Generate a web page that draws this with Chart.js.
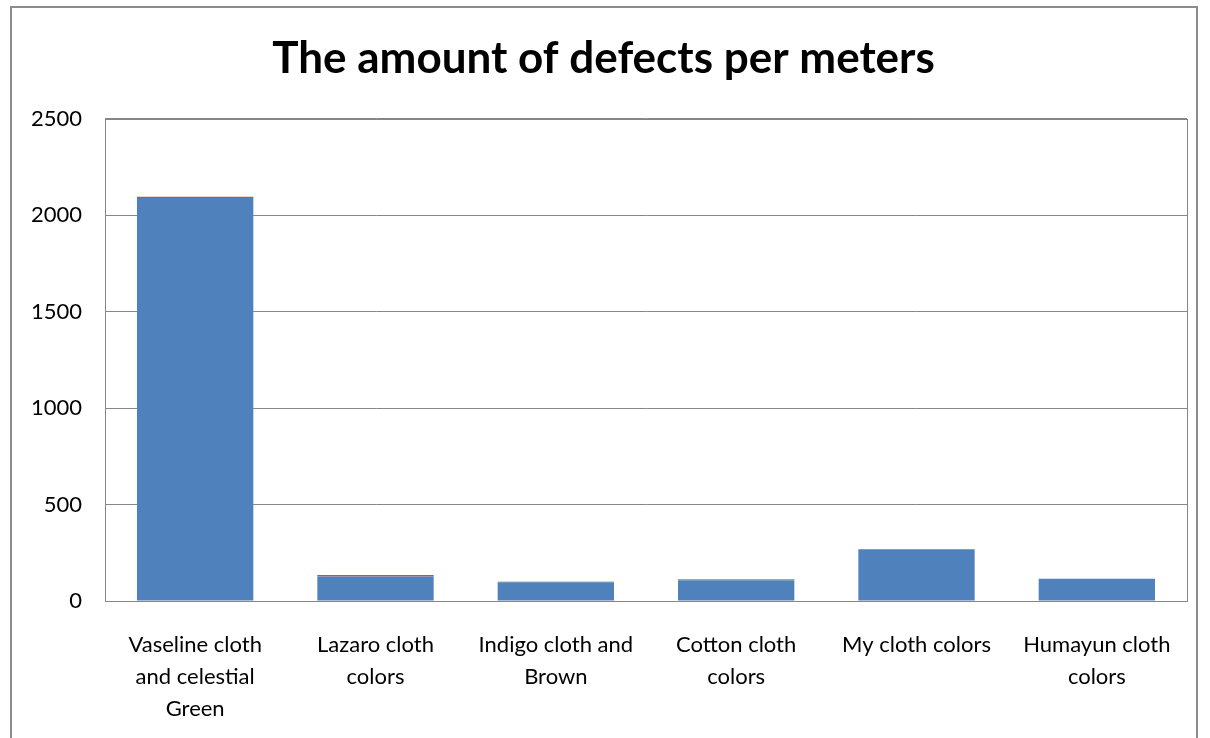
<!DOCTYPE html>
<html>
<head>
<meta charset="utf-8">
<script src="https://cdn.jsdelivr.net/npm/chart.js@4"></script>
<style>
  body { margin: 0; background: #fff; }
  #wrap { position: absolute; left: 0; top: 0; width: 1210px; height: 738px; }
  #frame { position: absolute; left: 10px; top: 6px; width: 1188px; height: 760px; border: 2px solid #8c8c8c; box-sizing: border-box; }
</style>
</head>
<body>
<div id="wrap">
  <div id="frame"></div>
  <canvas id="chart" width="1210" height="738"></canvas>
</div>
<script>
const categories = [
  ["Vaseline cloth", "and celestial", "Green"],
  ["Lazaro cloth", "colors"],
  ["Indigo cloth and", "Brown"],
  ["Cotton cloth", "colors"],
  ["My cloth colors"],
  ["Humayun cloth", "colors"]
];
const blue_values = [2090, 127, 97, 108, 268, 115];
const red_values = [6, 8, 0, 0, 0, 0];
const green_values = [0, 0, 4, 6, 0, 0];
const y_ticks = [0, 500, 1000, 1500, 2000, 2500];

Chart.defaults.font.family = "Lato, 'Open Sans', sans-serif";
Chart.defaults.color = '#000';

// box round the plot area
const plotBorder = {
  id: 'plotBorder',
  afterDraw(chart) {
    const a = chart.chartArea;
    const ctx = chart.ctx;
    ctx.save();
    ctx.strokeStyle = '#868686';
    ctx.lineWidth = 1;
    ctx.strokeRect(Math.round(a.left) + 0.5, Math.round(a.top) + 0.5, Math.round(a.right - a.left), Math.round(a.bottom - a.top));
    ctx.restore();
  }
};

new Chart(document.getElementById('chart').getContext('2d'), {
  type: 'bar',
  data: {
    labels: categories,
    datasets: [
      { label: 'Series1', data: blue_values, backgroundColor: '#4F81BD' },
      { label: 'Series2', data: red_values, backgroundColor: '#C0504D' },
      { label: 'Series3', data: green_values, backgroundColor: '#9BBB59' }
    ]
  },
  options: {
    responsive: false,
    animation: false,
    layout: { padding: { left: 20, right: 23, top: 0, bottom: 0 } },
    datasets: { bar: { categoryPercentage: 1, barPercentage: 0.645 } },
    plugins: {
      legend: { display: false },
      tooltip: { enabled: false },
      title: {
        display: true,
        text: 'The amount of defects per meters',
        font: { size: 44, weight: 'bold' },
        color: '#000',
        padding: { top: 32, bottom: 34 }
      }
    },
    scales: {
      x: {
        stacked: true,
        afterFit(axis) { axis.height = 137; },
        grid: { display: false, drawTicks: false },
        border: { color: '#868686' },
        ticks: { font: { size: 22, lineHeight: 1.4545 }, padding: 28, maxRotation: 0, autoSkip: false }
      },
      y: {
        stacked: true,
        min: 0,
        max: 2500,
        afterBuildTicks(axis) { axis.ticks = y_ticks.map(v => ({ value: v })); },
        afterFit(axis) { axis.width = 85; },
        grid: { color: '#868686', drawTicks: false },
        border: { color: '#868686' },
        ticks: { font: { size: 22 }, padding: 23, callback: v => String(v) }
      }
    }
  },
  plugins: [plotBorder]
});
</script>
</body>
</html>
